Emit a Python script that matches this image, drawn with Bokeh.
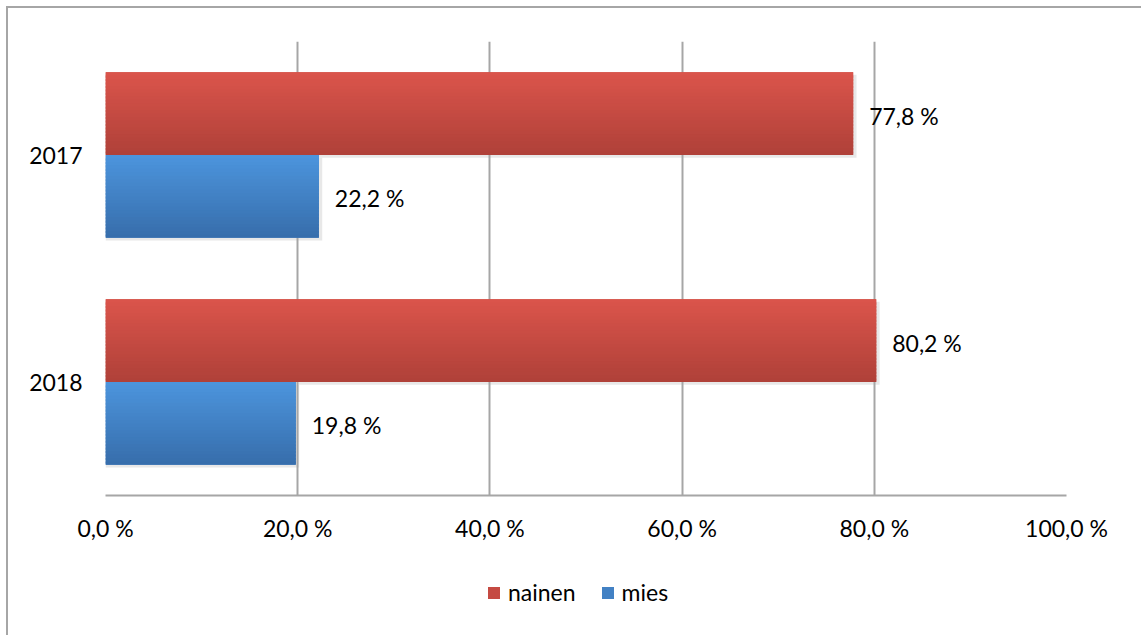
from bokeh.plotting import figure
from bokeh.layouts import column
from bokeh.models import Range1d, FixedTicker, Legend, LegendItem, ColumnDataSource
from bokeh.core.properties import value
from bokeh.embed import file_html
from bokeh.resources import INLINE

# --- data -------------------------------------------------------------
years = ["2017", "2018"]
series = ["nainen", "mies"]
nainen = [77.8, 80.2]
mies = [22.2, 19.8]
x_ticks = [0, 20, 40, 60, 80, 100]
x_tick_labels = ["0,0 %", "20,0 %", "40,0 %", "60,0 %", "80,0 %", "100,0 %"]

FONT = "Lato"
FONT_SIZE = "23px"
TEXT_COLOR = "#000000"
GRID_COLOR = "#a6a6a6"
BORDER = "2px solid #a6a6a6"
WIDTH = 1137

# years run top to bottom: 2017 centred at 1.5, 2018 at 0.5
y_centres = [1.5 - i for i in range(len(years))]
BAR_H = 0.365

# main chart: top part of a bordered box that starts 6px from the page corner
p = figure(width=WIDTH, height=554, output_backend="svg", toolbar_location=None,
           x_range=Range1d(0, 100), y_range=Range1d(0, 2),
           min_border_left=97, min_border_right=79,
           min_border_top=33, min_border_bottom=67)
p.styles = {"border": BORDER, "border-bottom": "none"}
p.outline_line_color = None
p.background_fill_color = "white"
p.border_fill_color = "white"


def lerp(c1, c2, t):
    return "#%02x%02x%02x" % tuple(int(round(a + (b - a) * t)) for a, b in zip(c1, c2))


def gradient_bars(values, centre_shift, top_rgb, bottom_rgb, n=24):
    """Draw horizontal bars as stacked strips shading from top to bottom."""
    strip = BAR_H / n
    base = ColumnDataSource(dict(y=[c + centre_shift for c in y_centres], right=values))
    p.hbar(y="y", left=0, right="right", height=BAR_H, source=base,
           fill_color=lerp(top_rgb, bottom_rgb, 0.5), line_color=None)
    for k in range(n):
        t = k / (n - 1)
        h = strip * (1.6 if k < n - 1 else 1.0)
        yc = [c + centre_shift + BAR_H / 2 - strip * k - h / 2 for c in y_centres]
        src = ColumnDataSource(dict(y=yc, right=values))
        p.hbar(y="y", left=0, right="right", height=h, source=src,
               fill_color=lerp(top_rgb, bottom_rgb, t), line_color=None)


red_top, red_bot = (218, 84, 75), (176, 65, 57)
blue_top, blue_bot = (76, 148, 220), (55, 110, 172)

# soft shadow under each bar
for vals, shift in ((nainen, BAR_H / 2), (mies, -BAR_H / 2)):
    src = ColumnDataSource(dict(y=[c + shift - 0.012 for c in y_centres],
                                right=[v + 0.35 for v in vals]))
    p.hbar(y="y", left=0, right="right", height=BAR_H, source=src,
           fill_color="#d9d9d9", fill_alpha=0.6, line_color=None, level="underlay")

gradient_bars(nainen, BAR_H / 2, red_top, red_bot)
gradient_bars(mies, -BAR_H / 2, blue_top, blue_bot)

# value labels
for vals, shift in ((nainen, BAR_H / 2), (mies, -BAR_H / 2)):
    src = ColumnDataSource(dict(x=vals, y=[c + shift for c in y_centres],
                                t=[("%.1f %%" % v).replace(".", ",") for v in vals]))
    p.text(x="x", y="y", text="t", source=src, x_offset=16, y_offset=2,
           text_font=value(FONT), text_font_size=FONT_SIZE, text_color=TEXT_COLOR,
           text_baseline="middle", text_align="left")

# axes
p.xaxis.ticker = FixedTicker(ticks=x_ticks)
p.xaxis.major_label_overrides = {t: l for t, l in zip(x_ticks, x_tick_labels)}
p.xaxis.major_tick_line_color = None
p.xaxis.minor_tick_line_color = None
p.xaxis.axis_line_color = GRID_COLOR
p.xaxis.axis_line_width = 2
p.xaxis.major_label_standoff = 12
p.xaxis.major_label_text_font = FONT
p.xaxis.major_label_text_font_size = FONT_SIZE
p.xaxis.major_label_text_color = TEXT_COLOR

p.yaxis.ticker = FixedTicker(ticks=y_centres)
p.yaxis.major_label_overrides = {c: y for c, y in zip(y_centres, years)}
p.yaxis.major_tick_line_color = None
p.yaxis.minor_tick_line_color = None
p.yaxis.axis_line_color = None
p.yaxis.major_label_standoff = 17
p.yaxis.major_label_text_font = FONT
p.yaxis.major_label_text_font_size = FONT_SIZE
p.yaxis.major_label_text_color = TEXT_COLOR

p.xgrid.ticker = FixedTicker(ticks=x_ticks)
p.xgrid.grid_line_color = GRID_COLOR
p.xgrid.grid_line_width = 2
p.ygrid.grid_line_color = None

# legend strip: lower part of the same bordered box
leg = figure(width=WIDTH, height=86, output_backend="svg", toolbar_location=None,
             x_range=Range1d(0, 100), y_range=Range1d(0, 1),
             min_border=0, min_border_left=2, min_border_right=2, min_border_bottom=2)
leg.styles = {"border": BORDER, "border-top": "none"}
leg.outline_line_color = None
leg.axis.visible = False
leg.grid.visible = False

# legend swatches: one proxy bar per series, kept below the visible range
items = []
for name, vals, top, bot in zip(series, (nainen, mies), (red_top, blue_top), (red_bot, blue_bot)):
    r = leg.hbar(y=[-1] * len(vals), right=vals, left=0, height=0.1,
                 fill_color=lerp(top, bot, 0.5), line_color=None)
    items.append(LegendItem(label=name, renderers=[r]))

legend = Legend(items=items, orientation="horizontal", location=(381, 38),
                glyph_width=15, glyph_height=15, label_standoff=7, spacing=24,
                label_text_font=FONT, label_text_font_size=FONT_SIZE,
                label_text_color=TEXT_COLOR, border_line_color=None,
                background_fill_alpha=0, margin=0, padding=0)
leg.add_layout(legend)

page = column(p, leg, spacing=0)
page.margin = (6, 0, 0, 6)

open("out.html", "w").write(file_html(page, INLINE))
